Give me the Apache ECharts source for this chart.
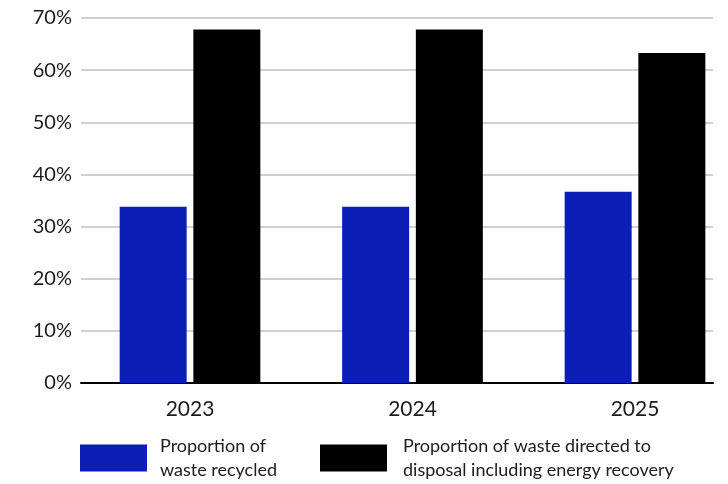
<!DOCTYPE html>
<html>
<head>
<meta charset="utf-8">
<script src="https://cdn.jsdelivr.net/npm/echarts@6/dist/echarts.min.js"></script>
<style>
  html, body { margin: 0; padding: 0; background: #fff; }
  #chart { width: 728px; height: 484px; }
</style>
</head>
<body>
<div id="chart"></div>
<script>
// Waste outcomes by year (percent of total waste)
const years = ['2023', '2024', '2025'];
const recycled = [33.8, 33.8, 36.7];
const disposal = [67.8, 67.8, 63.3];
const recycledName = 'Proportion of\nwaste recycled';
const disposalName = 'Proportion of waste directed to\ndisposal including energy recovery';

const FONT = 'Lato';
const TEXT = '#1c1c1c';

const chart = echarts.init(document.getElementById('chart'), null, { renderer: 'canvas' });

const legendBase = {
  top: 434, padding: 0, orient: 'horizontal',
  itemWidth: 67, itemHeight: 27, icon: 'rect', selectedMode: false
};

chart.setOption({
  animation: false,
  textStyle: { fontFamily: FONT },
  grid: [
    // percentage scale with gridlines and baseline
    { left: 81, right: 15, top: 18, bottom: 101 },
    // bar groups placed on year positions
    { left: 190, right: 93, top: 18, bottom: 101 }
  ],
  legend: [
    Object.assign({}, legendBase, {
      data: [recycledName], left: 80,
      textStyle: { fontFamily: FONT, fontSize: 18, color: TEXT, lineHeight: 24, padding: [0, 0, 0, 8] }
    }),
    Object.assign({}, legendBase, {
      data: [disposalName], left: 320,
      textStyle: { fontFamily: FONT, fontSize: 18, color: TEXT, lineHeight: 24, padding: [0, 0, 0, 11] }
    })
  ],
  xAxis: [
    {
      type: 'category', gridIndex: 0, data: years,
      axisLine: { show: true, lineStyle: { color: '#000', width: 2 } },
      axisTick: { show: false }, axisLabel: { show: false }, splitLine: { show: false }
    },
    {
      type: 'category', gridIndex: 1, data: years, boundaryGap: false,
      axisLine: { show: false }, axisTick: { show: false },
      axisLabel: { fontFamily: FONT, fontSize: 21, color: TEXT, margin: 16 },
      splitLine: { show: false }
    }
  ],
  yAxis: [
    {
      type: 'value', gridIndex: 0, min: 0, max: 70, interval: 10,
      axisLine: { show: false }, axisTick: { show: false },
      axisLabel: { fontFamily: FONT, fontSize: 20, color: TEXT, margin: 9, formatter: '{value}%' },
      splitLine: { lineStyle: { color: '#d0d0d0', width: 2 } }
    },
    {
      type: 'value', gridIndex: 1, min: 0, max: 70, interval: 10, show: false,
      splitLine: { show: false }
    }
  ],
  series: [
    {
      name: recycledName, type: 'bar', xAxisIndex: 1, yAxisIndex: 1,
      data: recycled, barWidth: 67, barGap: '10%',
      itemStyle: { color: '#0c1db6' }
    },
    {
      name: disposalName, type: 'bar', xAxisIndex: 1, yAxisIndex: 1,
      data: disposal, barWidth: 67, barGap: '10%',
      itemStyle: { color: '#000000' }
    }
  ]
});
</script>
</body>
</html>
